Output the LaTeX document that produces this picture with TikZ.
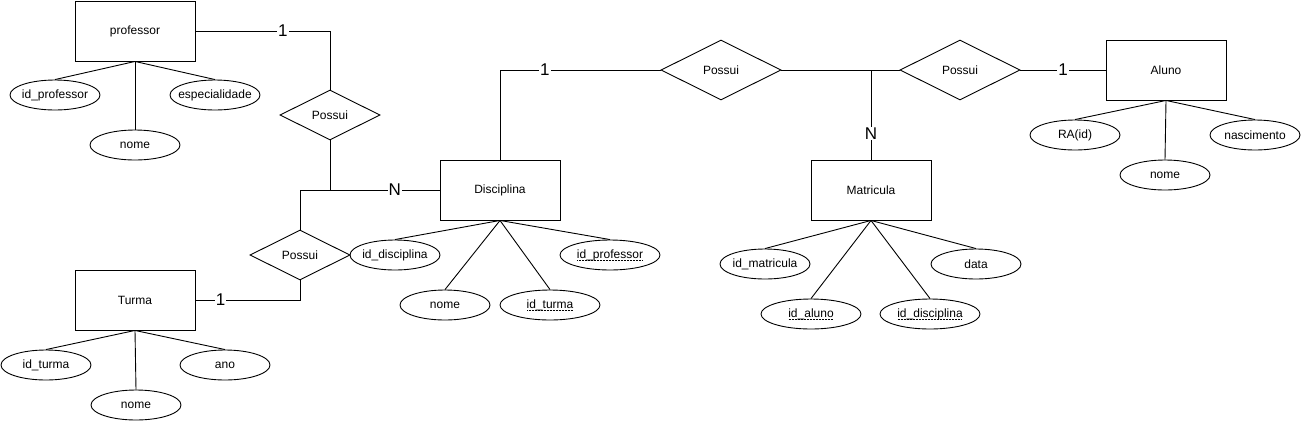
\documentclass[tikz,border=0pt]{standalone}
\usepackage{fontspec}
\setmainfont{Liberation Sans}
\usepackage{tikz}
\usetikzlibrary{shapes.geometric, positioning, calc}

\newcommand{\fkey}[1]{\setbox0\hbox{#1}\rlap{\usebox0}\raisebox{-2.6pt}{\hbox to \wd0{\leaders\hbox to 1.5pt{\hss\rule{0.8pt}{0.7pt}\hss}\hfill}}}

\begin{document}
\begin{tikzpicture}[
    x=1pt, y=-1pt,
    entity/.style={rectangle, draw, line width=0.9pt, minimum width=120pt, minimum height=60pt, font=\fontsize{12}{14}\selectfont},
    attr/.style={ellipse, draw, line width=0.9pt, minimum width=90pt, minimum height=30pt, inner xsep=-12pt, inner ysep=0pt, font=\fontsize{12}{14}\selectfont},
    wideattr/.style={attr, minimum width=100pt},
    rel/.style={diamond, draw, line width=0.9pt, minimum width=100pt, minimum height=50pt, inner sep=0pt, font=\fontsize{12}{14}\selectfont},
    bigrel/.style={rel, minimum width=120pt, minimum height=60pt},
    card/.style={fill=white, inner sep=1pt, font=\fontsize{17}{19}\selectfont},
    link/.style={line width=0.9pt},
]
\useasboundingbox (0,0) rectangle (1301,421);

\node[entity] (prof) at (135,31) {professor};
\node[attr] (profid) at (55,95) {id\_professor};
\node[attr] (profesp) at (215,95) {especialidade};
\node[attr] (profnome) at (135,145) {nome};

\node[rel] (pos1) at (330,115) {Possui};

\node[entity] (disc) at (500,190) {Disciplina};
\node[attr] (discid) at (395,255) {id\_disciplina};
\node[wideattr] (discprof) at (610,255) {\fkey{id\_professor}};
\node[attr] (discnome) at (445,305) {nome};
\node[wideattr] (discturma) at (550,305) {\fkey{id\_turma}};

\node[rel] (pos2) at (300,255) {Possui};

\node[entity] (turma) at (135,300) {Turma};
\node[attr] (turid) at (46,365) {id\_turma};
\node[attr] (turano) at (225,365) {ano};
\node[attr] (turnome) at (136,405) {nome};

\node[bigrel] (pos3) at (721,70) {Possui};
\node[bigrel] (pos4) at (960,70) {Possui};

\node[entity] (mat) at (871,190) {Matricula};
\node[attr] (matid) at (765,264) {id\_matricula};
\node[attr] (matdata) at (976,264) {data};
\node[wideattr] (mataluno) at (811,314) {\fkey{id\_aluno}};
\node[wideattr] (matdisc) at (930,314) {\fkey{id\_disciplina}};

\node[entity] (aluno) at (1166,70) {Aluno};
\node[attr] (alunora) at (1075,135) {RA(id)};
\node[attr] (alunonasc) at (1255,135) {nascimento};
\node[attr] (alunonome) at (1165,175) {nome};

\coordinate (jct) at (mat.north |- pos3.east);

\draw[link] (prof.south) -- (profid.north);
\draw[link] (prof.south) -- (profesp.north);
\draw[link] (prof.south) -- (profnome.north);

\draw[link] (disc.south) -- (discid.north);
\draw[link] (disc.south) -- (discprof.north);
\draw[link] (disc.south) -- (discnome.north);
\draw[link] (disc.south) -- (discturma.north);

\draw[link] (turma.south) -- (turid.north);
\draw[link] (turma.south) -- (turano.north);
\draw[link] (turma.south) -- (turnome.north);

\draw[link] (mat.south) -- (matid.north);
\draw[link] (mat.south) -- (matdata.north);
\draw[link] (mat.south) -- (mataluno.north);
\draw[link] (mat.south) -- (matdisc.north);

\draw[link] (aluno.south) -- (alunora.north);
\draw[link] (aluno.south) -- (alunonasc.north);
\draw[link] (aluno.south) -- (alunonome.north);

\draw[link] (pos2.north) |- (disc.west);
\draw[link] (prof.east) -| node[card, pos=0.325] {1} (pos1.north);
\draw[link] (pos1.south) |- node[card, pos=0.795] {N} (disc.west);
\draw[link] (pos2.south) |- node[card, pos=0.88] {1} (turma.east);
\draw[link] (disc.north) |- node[card, pos=0.64] {1} (pos3.west);
\draw[link] (pos3.east) -- (pos4.west);
\draw[link] (mat.north) -- node[card, pos=0.29] {N} (jct);
\draw[link] (pos4.east) -- node[card] {1} (aluno.west);

\end{tikzpicture}
\end{document}
